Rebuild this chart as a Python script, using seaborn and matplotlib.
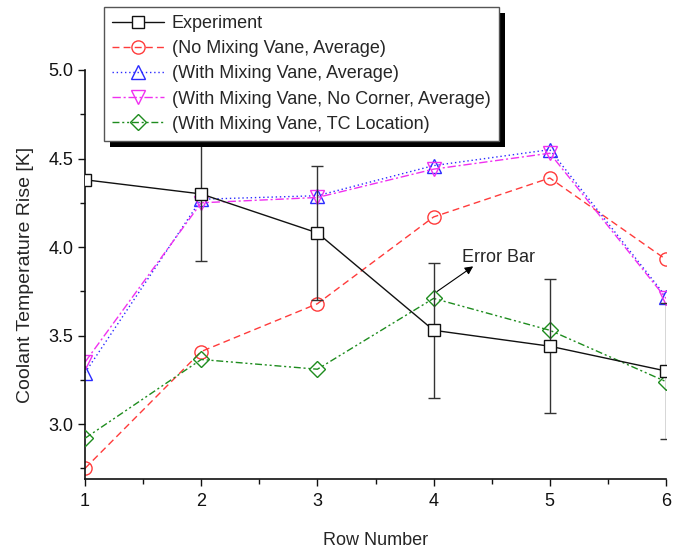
import numpy as np
import pandas as pd
import matplotlib
matplotlib.use("Agg")
import matplotlib.pyplot as plt
from matplotlib.patches import Rectangle
from matplotlib.ticker import MultipleLocator, FormatStrFormatter
import seaborn as sns

# data
rows = [1, 2, 3, 4, 5, 6]
experiment = [4.38, 4.30, 4.08, 3.53, 3.44, 3.30]
exp_err = [0.0, 0.38, 0.38, 0.38, 0.38, 0.385]
no_vane_avg = [2.75, 3.41, 3.68, 4.17, 4.39, 3.93]
vane_avg = [3.29, 4.27, 4.29, 4.46, 4.55, 3.72]
vane_nocorner_avg = [3.35, 4.25, 4.28, 4.44, 4.53, 3.71]
vane_tc = [2.92, 3.365, 3.31, 3.71, 3.53, 3.24]

labels = ["Experiment",
          "(No Mixing Vane, Average)",
          "(With Mixing Vane, Average)",
          "(With Mixing Vane, No Corner, Average)",
          "(With Mixing Vane, TC Location)"]

sns.set_style("ticks")
plt.rcParams['font.family'] = ['Liberation Sans', 'DejaVu Sans']
plt.rcParams['font.size'] = 13

fig = plt.figure(figsize=(6.81, 5.49), dpi=100)
ax = fig.add_axes([85 / 681, 1 - 479 / 549, (666 - 85) / 681, (479 - 70) / 549])

df = pd.DataFrame({"row": rows, "exp": experiment, "err": exp_err,
                   "nv": no_vane_avg, "va": vane_avg,
                   "vnc": vane_nocorner_avg, "vtc": vane_tc})

# model curves
sns.lineplot(data=df, x="row", y="nv", ax=ax, color="#ff3b3b", lw=1.0,
             linestyle=(0, (5, 3)), marker="o", markersize=9.5,
             markerfacecolor="none", markeredgecolor="#ff3b3b", markeredgewidth=1.0,
             label=labels[1], zorder=2)
sns.lineplot(data=df, x="row", y="va", ax=ax, color="#2b2bff", lw=1.0,
             linestyle=(0, (1, 2)), marker="^", markersize=9.5,
             markerfacecolor="none", markeredgecolor="#2b2bff", markeredgewidth=1.0,
             label=labels[2], zorder=2.2)
sns.lineplot(data=df, x="row", y="vnc", ax=ax, color="#f030f0", lw=1.0,
             linestyle=(0, (6, 2, 1.5, 2)), marker="v", markersize=9.5,
             markerfacecolor="none", markeredgecolor="#f030f0", markeredgewidth=1.0,
             label=labels[3], zorder=2.4)
sns.lineplot(data=df, x="row", y="vtc", ax=ax, color="#1e8c1e", lw=1.0,
             linestyle=(0, (5, 2, 1.5, 2, 1.5, 2)), marker="D", markersize=8.5,
             markerfacecolor="none", markeredgecolor="#1e8c1e", markeredgewidth=1.0,
             label=labels[4], zorder=2.6)

# experiment with error bars
has_err = df["err"] > 0
ax.errorbar(df["row"][has_err], df["exp"][has_err], yerr=df["err"][has_err],
            fmt="none", ecolor="#333333", elinewidth=1.0, capsize=4, capthick=1.0,
            zorder=3.5)
sns.lineplot(data=df, x="row", y="exp", ax=ax, color="#111111", lw=1.0,
             marker="s", markersize=8.5, markerfacecolor="white",
             markeredgecolor="#111111", markeredgewidth=1.0,
             label=labels[0], zorder=4)

# arrow pointing away from the error bar at row 4
ax.annotate("", xy=(4.36, 3.90), xytext=(4.01, 3.74),
            arrowprops=dict(arrowstyle="-|>", color="black", lw=0.8, mutation_scale=12))
ax.text(4.245, 3.895, "Error Bar", ha="left", va="bottom", fontsize=13)

ax.set_xlim(1, 6)
ax.set_ylim(2.69, 5.0)
ax.xaxis.set_major_locator(MultipleLocator(1))
ax.xaxis.set_minor_locator(MultipleLocator(0.5))
ax.yaxis.set_minor_locator(MultipleLocator(0.25))
ax.set_yticks([3.0, 3.5, 4.0, 4.5, 5.0])
ax.yaxis.set_major_formatter(FormatStrFormatter("%.1f"))
ax.tick_params(axis="both", which="major", direction="out", length=5, width=1,
               labelsize=13, colors="#111111")
ax.tick_params(axis="both", which="minor", direction="out", length=3.5, width=1,
               colors="#111111")
ax.tick_params(axis="x", which="major", pad=5)
sns.despine(ax=ax, top=True, right=True)
for s in ["left", "bottom"]:
    ax.spines[s].set_color("#111111")
    ax.spines[s].set_linewidth(1.2)

ax.set_xlabel("Row Number", fontsize=13, labelpad=16)
ax.set_ylabel("Coolant Temperature Rise [K]", fontsize=14, labelpad=10)

# legend as a figure legend with a solid black shadow
handles, labs = ax.get_legend_handles_labels()
order = [labs.index(l) for l in labels]
ax.get_legend().remove()
leg = fig.legend([handles[i] for i in order], [labs[i] for i in order],
                 loc="upper left", bbox_to_anchor=(104 / 681, 1 - 7 / 549),
                 borderaxespad=0, frameon=True, fancybox=False, shadow=False,
                 numpoints=1, handlelength=2.9, handletextpad=0.4,
                 labelspacing=0.45, borderpad=0.45, fontsize=13)
leg.get_frame().set_edgecolor("#555555")
leg.get_frame().set_linewidth(1.0)
leg.get_frame().set_alpha(1)
leg.set_zorder(3)

fig.canvas.draw()
bb = leg.get_window_extent()
shadow = Rectangle((bb.x0 + 6, bb.y0 - 6), bb.width, bb.height,
                   transform=None, facecolor="black", edgecolor="none", zorder=2)
fig.patches.append(shadow)

fig.savefig("out.png", dpi=100)
